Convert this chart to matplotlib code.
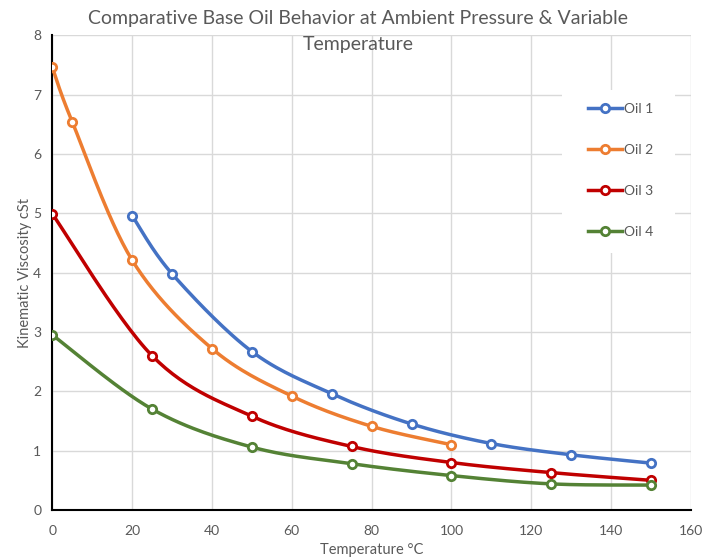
import numpy as np
from matplotlib import pyplot as plt
from matplotlib.patches import Rectangle

oil1_x = [20, 30, 50, 70, 90, 110, 130, 150]
oil1_y = [4.96, 3.98, 2.67, 1.96, 1.45, 1.12, 0.93, 0.79]
oil2_x = [0, 5, 20, 40, 60, 80, 100]
oil2_y = [7.46, 6.54, 4.21, 2.72, 1.92, 1.41, 1.10]
oil3_x = [0, 25, 50, 75, 100, 125, 150]
oil3_y = [4.99, 2.60, 1.58, 1.07, 0.80, 0.63, 0.50]
oil4_x = [0, 25, 50, 75, 100, 125, 150]
oil4_y = [2.95, 1.70, 1.06, 0.78, 0.58, 0.44, 0.42]

names = ['Oil 1', 'Oil 2', 'Oil 3', 'Oil 4']
colors = ['#4472C4', '#ED7D31', '#C00000', '#548235']
x_ticks = [0, 20, 40, 60, 80, 100, 120, 140, 160]
y_ticks = [0, 1, 2, 3, 4, 5, 6, 7, 8]

TXT = '#595959'
FONT = 'Lato'


def smooth(xs, ys, n=30):
    # catmull-rom style curve through the points, like excel's smoothed line
    p = np.column_stack([xs, ys]).astype(float)
    p = np.vstack([p[0], p, p[-1]])
    out = []
    for i in range(1, len(p) - 2):
        p0, p1, p2, p3 = p[i - 1], p[i], p[i + 1], p[i + 2]
        t = np.linspace(0, 1, n)[:, None]
        c1 = p1 + (p2 - p0) / 6
        c2 = p2 - (p3 - p1) / 6
        seg = ((1 - t) ** 3) * p1 + 3 * ((1 - t) ** 2) * t * c1 + 3 * (1 - t) * t ** 2 * c2 + t ** 3 * p2
        out.append(seg)
    out = np.vstack(out)
    return out[:, 0], out[:, 1]


fig = plt.figure(figsize=(7.16, 5.58), dpi=100)
ax = fig.add_axes([0.073, 0.086, 0.892, 0.851])

series = [(oil1_x, oil1_y), (oil2_x, oil2_y), (oil3_x, oil3_y), (oil4_x, oil4_y)]
for (xs, ys), name, c in zip(series, names, colors):
    sx, sy = smooth(xs, ys)
    ax.plot(sx, sy, color=c, lw=2.5, solid_capstyle='round', zorder=3)
    ax.plot(xs, ys, ls='none', marker='o', ms=6, mfc='white', mec=c, mew=2, zorder=4)
    ax.plot([], [], color=c, lw=2.5, marker='o', ms=6, mfc='white', mec=c, mew=2, label=name)

ax.set_xlim(0, 160)
ax.set_ylim(0, 8)
ax.set_xticks(x_ticks)
ax.set_yticks(y_ticks)
ax.grid(True, color='#d9d9d9', lw=1)
ax.set_axisbelow(True)
for s in ['top', 'right']:
    ax.spines[s].set_visible(False)
ax.spines['left'].set_color('black')
ax.spines['bottom'].set_color('black')
ax.spines['left'].set_linewidth(1.5)
ax.spines['bottom'].set_linewidth(1.5)
ax.tick_params(length=0, labelcolor=TXT, labelsize=10, pad=8)
ax.tick_params(axis='x', pad=11)
for lab in ax.get_xticklabels() + ax.get_yticklabels():
    lab.set_family(FONT)

ax.set_xlabel('Temperature °C', color=TXT, fontsize=10.5, family=FONT, labelpad=4)
ax.set_ylabel('Kinematic Viscosity cSt', color=TXT, fontsize=10.5, family=FONT)
ax.yaxis.set_label_coords(-0.032, 0.5)

fig.text(0.5, 0.966, 'Comparative Base Oil Behavior at Ambient Pressure & Variable',
         ha='center', va='center', color=TXT, fontsize=14, family=FONT)
fig.text(0.5, 0.921, 'Temperature', ha='center', va='center', color=TXT, fontsize=14, family=FONT)

# white box behind the legend, hides the grid there
ax.add_patch(Rectangle((0.798, 0.541), 0.177, 0.343, transform=ax.transAxes,
                       facecolor='white', edgecolor='none', zorder=1.5))
leg = ax.legend(loc='center left', bbox_to_anchor=(0.839, 0.715), frameon=False,
                labelspacing=2.1, handlelength=2.45, handletextpad=0.15, borderpad=0,
                borderaxespad=0, prop={'family': FONT, 'size': 10})
for t in leg.get_texts():
    t.set_color(TXT)

fig.savefig('out.png', dpi=100)
